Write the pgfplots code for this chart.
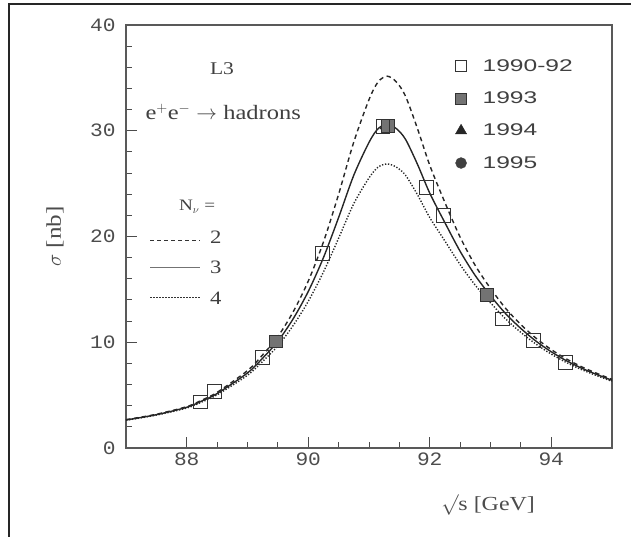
\documentclass[border=0pt]{standalone}
\usepackage{fontspec}
\usepackage{pgfplots}
\pgfplotsset{compat=1.18}
\newfontfamily\legfont[FakeStretch=1.45]{Liberation Sans}
\newfontfamily\tickfont[FakeStretch=1.12]{Liberation Mono}
\newfontfamily\txtfont[FakeStretch=1.2]{Liberation Serif}

% lineshape curves, N_nu = 2, 3, 4
\pgfplotstableread{
E s
87.0 2.68
87.5 3.19
88.0 3.91
88.25 4.53
88.5 5.26
89.0 7.32
89.25 8.81
89.5 10.54
89.75 12.86
90.0 15.78
90.25 19.48
90.5 24.0
90.75 28.94
91.0 32.94
91.15 34.62
91.3 35.16
91.45 34.62
91.6 33.28
91.8 30.17
92.0 26.74
92.25 23.21
92.5 19.94
92.75 17.25
93.0 15.09
93.25 13.20
93.5 11.67
93.75 10.38
94.0 9.31
94.25 8.42
94.5 7.68
94.75 7.06
95.0 6.49
}\nutwo
\pgfplotstableread{
E s
87.0 2.65
87.5 3.15
88.0 3.85
88.25 4.45
88.5 5.15
89.0 7.1
89.25 8.5
89.5 10.1
89.75 12.2
90.0 14.8
90.25 18.0
90.5 21.8
90.75 25.8
91.0 28.9
91.15 30.2
91.3 30.6
91.45 30.2
91.6 29.2
91.8 26.8
92.0 24.1
92.25 21.3
92.5 18.6
92.75 16.3
93.0 14.4
93.25 12.7
93.5 11.3
93.75 10.1
94.0 9.1
94.25 8.25
94.5 7.55
94.75 6.95
95.0 6.4
}\nuthree
\pgfplotstableread{
E s
87.0 2.62
87.5 3.11
88.0 3.78
88.25 4.36
88.5 5.03
89.0 6.88
89.25 8.19
89.5 9.66
89.75 11.57
90.0 13.87
90.25 16.64
90.5 19.84
90.75 23.11
91.0 25.54
91.15 26.56
91.3 26.86
91.45 26.56
91.6 25.80
91.8 23.93
92.0 21.79
92.25 19.57
92.5 17.34
92.75 15.39
93.0 13.73
93.25 12.20
93.5 10.93
93.75 9.82
94.0 8.88
94.25 8.08
94.5 7.41
94.75 6.84
95.0 6.31
}\nufour

\begin{document}
\begin{tikzpicture}
\path[use as bounding box] (0,0) rectangle (631bp,537bp);
\draw[line width=2.5bp, black!85] (9bp,0) -- (9bp,533bp) -- (631bp,533bp);
\begin{axis}[
  at={(126bp,89bp)}, anchor=south west,
  scale only axis, width=486bp, height=423bp,
  xmin=87, xmax=95, ymin=0, ymax=40,
  xtick={88,90,92,94}, ytick={0,10,20,30,40},
  minor x tick num=3, minor y tick num=4,
  xtick pos=bottom, ytick pos=left,
  tick align=inside,
  major tick length=11bp, minor tick length=6bp,
  every tick/.style={black!70, line width=1bp},
  axis line style={black!65, line width=1.3bp},
  /pgf/number format/assume math mode=true,
  ticklabel style={font=\tickfont\fontsize{19}{22}\selectfont, text=black!70},
  yticklabel style={xshift=-7bp},
  xticklabel style={yshift=-1bp},
  xlabel={$\surd$s [GeV]},
  xlabel style={at={(axis description cs:0.745,-0.135)}, anchor=center,
    font=\txtfont\fontsize{20}{22}\selectfont, text=black!70},
  ylabel={$\sigma$ [nb]},
  ylabel style={at={(axis description cs:-0.146,0.5)}, anchor=center, rotate=0,
    font=\txtfont\fontsize{21}{22}\selectfont, text=black!70},
  clip=false,
  legend style={at={(axis cs:92.42,36.95)}, anchor=north west, draw=none, fill=none,
    font=\legfont\fontsize{17}{20}\selectfont, text=black!75,
    row sep=15bp, inner sep=0pt},
  legend cell align=left,
]
\addlegendimage{only marks, mark=square, mark size=5.5pt, black!80, line width=1bp}
\addlegendentry{\hspace{14bp}1990-92}
\addlegendimage{only marks, mark=square*, mark size=5.5pt, black!80, fill=black!55}
\addlegendentry{\hspace{14bp}1993}
\addlegendimage{only marks, mark=triangle*, mark size=6.5pt, black!85}
\addlegendentry{\hspace{14bp}1994}
\addlegendimage{only marks, mark=*, mark size=5.5pt, black!75}
\addlegendentry{\hspace{14bp}1995}

\addplot[forget plot, smooth, black!85, line width=1.4bp, dash pattern=on 4.5bp off 3.5bp] table[x=E,y=s] {\nutwo};
\addplot[forget plot, smooth, black!85, line width=1.4bp] table[x=E,y=s] {\nuthree};
\addplot[forget plot, smooth, black!85, line width=1.4bp, dash pattern=on 1.3bp off 1.7bp] table[x=E,y=s] {\nufour};

% 1995
\addplot[forget plot, only marks, mark=*, mark size=4pt, black!75] coordinates {
(89.45,10.1) (91.3,30.4) (92.95,14.4)};
% 1994
\addplot[forget plot, only marks, mark=triangle*, mark size=5pt, black!85] coordinates {
(91.25,30.4)};
% 1993
\addplot[forget plot, only marks, mark=square*, mark size=6.5pt, black!80, fill=black!55] coordinates {
(89.47,10.1) (91.3,30.5) (92.94,14.5)};
% 1990-92
\addplot[forget plot, only marks, mark=square, mark size=7pt, black!80, line width=1bp] coordinates {
(88.22,4.35) (88.46,5.3) (89.24,8.6) (90.23,18.4) (91.23,30.4) (91.95,24.6)
(92.22,22.0) (93.2,12.2) (93.7,10.2) (94.23,8.1)};

\node[font=\txtfont\fontsize{18}{20}\selectfont, text=black!75] at (axis cs:88.58,35.9) {L3};
\node[font=\txtfont\fontsize{20.5}{22}\selectfont, text=black!75] at (axis cs:88.6,31.8) {e$^{+}$e$^{-}$ $\rightarrow$ hadrons};
\node[font=\txtfont\fontsize{16}{18}\selectfont, text=black!75] at (axis cs:88.17,22.8) {N$_{\nu}$ =};
\draw[black!80, line width=1.2bp, dash pattern=on 4bp off 3bp] (axis cs:87.4,19.6) -- (axis cs:88.22,19.6);
\draw[black!55, line width=1.2bp] (axis cs:87.4,17.1) -- (axis cs:88.22,17.1);
\draw[black!80, line width=1.2bp, dash pattern=on 1.3bp off 1.7bp] (axis cs:87.4,14.2) -- (axis cs:88.22,14.2);
\node[font=\txtfont\fontsize{19}{20}\selectfont, text=black!75] at (axis cs:88.48,19.9) {2};
\node[font=\txtfont\fontsize{19}{20}\selectfont, text=black!75] at (axis cs:88.48,17.1) {3};
\node[font=\txtfont\fontsize{19}{20}\selectfont, text=black!75] at (axis cs:88.48,14.2) {4};
\end{axis}
\end{tikzpicture}
\end{document}
